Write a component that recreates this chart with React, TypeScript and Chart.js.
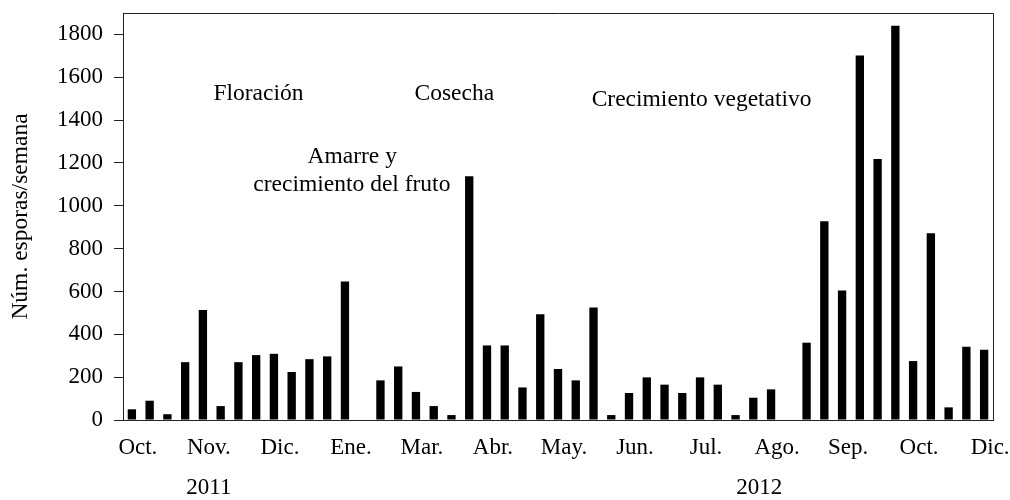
import React, { useEffect, useRef } from "react";
import { Chart, registerables } from "chart.js";

Chart.register(...registerables);

// Weekly spore counts (Oct. 2011 – Dic. 2012), one value per weekly slot
const sporeCounts = [
  50, 90, 27, 270, 514, 65, 270, 303, 309, 224, 284, 297, 647,
  0,
  185, 250, 131, 65, 23, 1138, 348, 348, 152, 494,
  238, 185, 525, 23, 126, 199, 165, 126, 199, 165, 23, 104, 143,
  0,
  361, 928, 605, 1702, 1219, 1841, 275, 872, 59, 342, 328,
];

// Month tick labels, one entry per weekly slot
const monthLabels = [
  "Oct.", "", "", "",
  "Nov.", "", "", "",
  "Dic.", "", "", "",
  "Ene.", "", "", "",
  "Mar.", "", "", "",
  "Abr.", "", "", "",
  "May.", "", "", "",
  "Jun.", "", "", "",
  "Jul.", "", "", "",
  "Ago.", "", "", "",
  "Sep.", "", "", "",
  "Oct.", "", "", "",
  "Dic.",
];

// Year labels (second tick line), one entry per weekly slot
const yearLabels = [
  "", "", "", "",
  "2011", "", "", "",
  "", "", "", "",
  "", "", "", "",
  "", "", "", "",
  "", "", "", "",
  "", "", "", "",
  "", "", "", "",
  "", "", "", "2012",
  "", "", "", "",
  "", "", "", "",
  "", "", "", "",
  "",
];

const yTickValues = [0, 200, 400, 600, 800, 1000, 1200, 1400, 1600, 1800];

// Phase annotations anchored in data coordinates (slot index, count)
const phaseNotes = [
  { text: "Floración", slot: 7.13, value: 1496 },
  { text: "Cosecha", slot: 18.16, value: 1496 },
  { text: "Amarre y", slot: 12.41, value: 1202 },
  { text: "crecimiento del fruto", slot: 12.39, value: 1070 },
  { text: "Crecimiento vegetativo", slot: 32.09, value: 1468 },
];

const FONT = "'Liberation Serif', 'Times New Roman', serif";

const labels = monthLabels.map((m, i) => [m, yearLabels[i]]);

const boxPlugin = {
  id: "boxPlugin",
  afterDraw(chart: any) {
    const { ctx, chartArea } = chart;
    ctx.save();
    ctx.strokeStyle = "#222";
    ctx.lineWidth = 1;
    ctx.beginPath();
    ctx.moveTo(Math.round(chartArea.left) + 0.5, Math.round(chartArea.top) + 0.5);
    ctx.lineTo(Math.round(chartArea.right) + 0.5, Math.round(chartArea.top) + 0.5);
    ctx.lineTo(Math.round(chartArea.right) + 0.5, Math.round(chartArea.bottom) + 0.5);
    ctx.stroke();
    ctx.restore();
  },
};

const notesPlugin = {
  id: "notesPlugin",
  afterDatasetsDraw(chart: any) {
    const { ctx, scales } = chart;
    ctx.save();
    ctx.fillStyle = "#000";
    ctx.font = `23.5px ${FONT}`;
    ctx.textAlign = "center";
    ctx.textBaseline = "alphabetic";
    phaseNotes.forEach((n) => {
      ctx.fillText(n.text, scales.x.getPixelForValue(n.slot), scales.y.getPixelForValue(n.value));
    });
    ctx.restore();
  },
};

export default function App() {
  const ref = useRef<HTMLCanvasElement>(null);
  useEffect(() => {
    const chart = new Chart(ref.current as HTMLCanvasElement, {
      type: "bar",
      data: {
        labels,
        datasets: [
          {
            data: sporeCounts,
            backgroundColor: "#000",
            borderWidth: 0,
            barPercentage: 0.47,
            categoryPercentage: 1,
          },
        ],
      },
      options: {
        animation: false,
        responsive: false,
        maintainAspectRatio: false,
        layout: { padding: { top: 13, right: 17, bottom: 0, left: 0 } },
        plugins: { legend: { display: false }, tooltip: { enabled: false } },
        scales: {
          x: {
            grid: { display: false, drawTicks: false },
            border: { display: true, color: "#222", width: 1 },
            ticks: {
              autoSkip: false,
              maxRotation: 0,
              minRotation: 0,
              labelOffset: 6,
              padding: 8,
              color: "#000",
              font: { family: FONT, size: 23, lineHeight: 1.74 },
            },
            afterFit: (s: any) => {
              s.height = 80;
              s.paddingLeft = 0;
              s.paddingRight = 0;
            },
          },
          y: {
            min: 0,
            max: 1900,
            afterBuildTicks: (s: any) => {
              s.ticks = yTickValues.map((v) => ({ value: v }));
            },
            ticks: {
              padding: 11,
              color: "#000",
              font: { family: FONT, size: 23 },
              callback: (v: any) => String(v),
            },
            grid: { drawOnChartArea: false, drawTicks: true, tickLength: 9, color: "#222" },
            border: { display: true, color: "#222", width: 1 },
            title: {
              display: true,
              text: "Núm. esporas/semana",
              color: "#000",
              font: { family: FONT, size: 23.5 },
              padding: { top: 7, bottom: 0 },
            },
            afterFit: (s: any) => {
              s.width = 123;
              s.paddingTop = 0;
              s.paddingBottom = 0;
            },
          },
        },
      },
      plugins: [boxPlugin, notesPlugin],
    } as any);
    return () => chart.destroy();
  }, []);
  return (
    <div style={{ position: "fixed", left: 0, top: 0, width: 1010, height: 500, background: "#fff" }}>
      <canvas ref={ref} width={1010} height={500} style={{ display: "block", width: 1010, height: 500 }} />
    </div>
  );
}
